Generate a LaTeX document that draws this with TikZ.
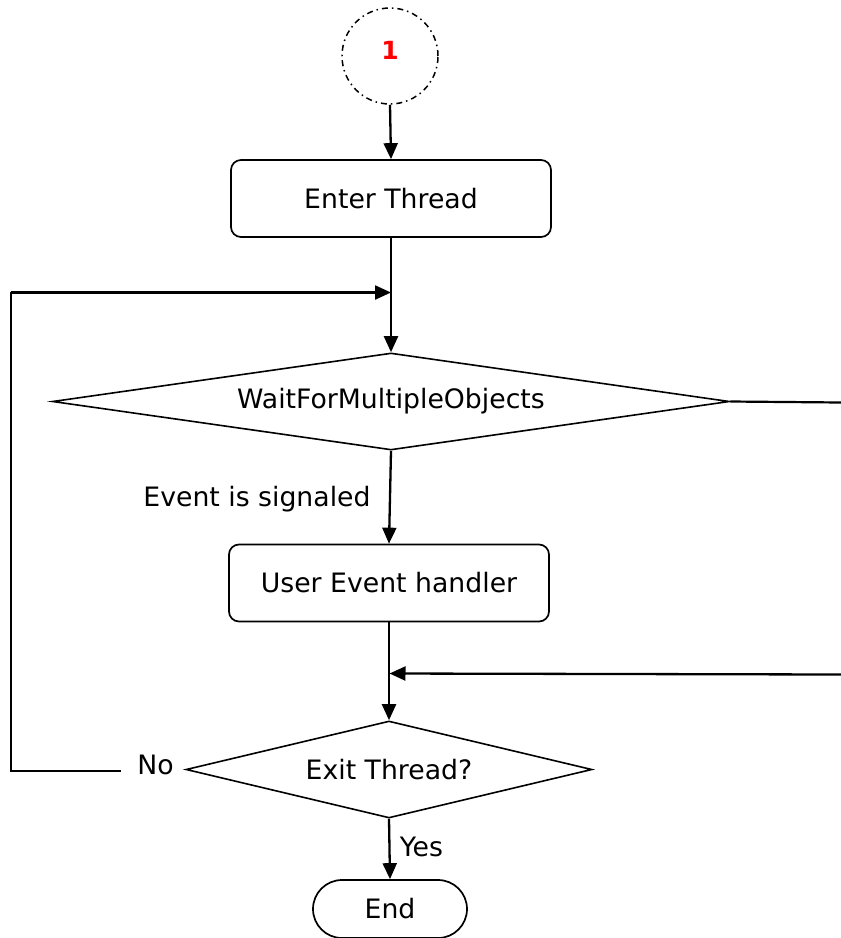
\documentclass[tikz,border=0pt]{standalone}
\usepackage{fontspec}
\setmainfont{DejaVu Sans}
\usetikzlibrary{arrows.meta,shapes.geometric}
\tikzset{
  txt/.style={font=\fontsize{26.7}{31}\selectfont},
  box/.style={draw, line width=1.7pt, rounded corners=10pt, minimum width=320pt,
    minimum height=77pt, inner sep=0pt, txt},
  decision/.style={draw, line width=1.6pt, diamond, inner sep=0pt, txt},
  terminal/.style={draw, line width=1.7pt, rounded corners=29pt, minimum width=154pt,
    minimum height=58pt, inner sep=0pt, txt},
  label/.style={inner sep=0pt, txt},
  conn/.style={line width=2.3pt, -{Triangle[length=16pt,width=14pt]}},
  plain/.style={line width=2.2pt},
  loopline/.style={line width=2pt, line cap=rect},
}
\begin{document}
\begin{tikzpicture}[x=1pt,y=-1pt]
\useasboundingbox (0,0) rectangle (841,938);

% entry connector circle
\node[draw, circle, line width=1.5pt, minimum size=96pt, inner sep=0pt,
  dash pattern=on 6pt off 4pt on 1.5pt off 4pt,
  text=red, font=\fontsize{25}{29}\selectfont\bfseries] (start) at (390,56) {\raisebox{11pt}{1}};

% process steps
\node[box] (enter) at (391,198.5) {Enter Thread};
\node[decision, shape aspect=7, minimum width=677pt, minimum height=97pt] (wait) at (391,401.5) {WaitForMultipleObjects};
\node[box] (handler) at (389,583) {User Event handler};
\node[decision, shape aspect=4, minimum width=406pt, minimum height=97pt] (exit) at (389,769.5) {Exit Thread?};
\node[terminal] (finish) at (390,909) {End};

% labels
\node[label] (evlbl) at (257,499) {Event is signaled};
\node[label] (nolbl) at (155.5,764.5) {No};
\node[label] (yeslbl) at (421.5,846.5) {Yes};

% junction and free ends
\coordinate (loopjoin) at (391,292.5);
\coordinate (loopstart) at (120,770.5);
\coordinate (loopcorner) at (10.5,770.5);
\coordinate (looptop) at (10.5,292.5);
\coordinate (rightout) at (841,402.5);
\coordinate (rightin) at (841,674.5);
\coordinate (mergejoin) at (389.5,673.5);

% connectors
\draw[conn] (start.south) -- (enter.north);
\draw[conn] (enter.south) -- (wait.north);
\draw[conn] (wait.south) -- (handler.north);
\draw[conn] (handler.south) -- (exit.north);
\draw[conn] (exit.south) -- (finish.north);
\draw[plain] (wait.east) -- (rightout);
\draw[conn] (rightin) -- (mergejoin);
\draw[loopline] (loopstart) -- (loopcorner) -- (looptop);
\draw[conn] (looptop) -- (loopjoin);
\end{tikzpicture}
\end{document}
